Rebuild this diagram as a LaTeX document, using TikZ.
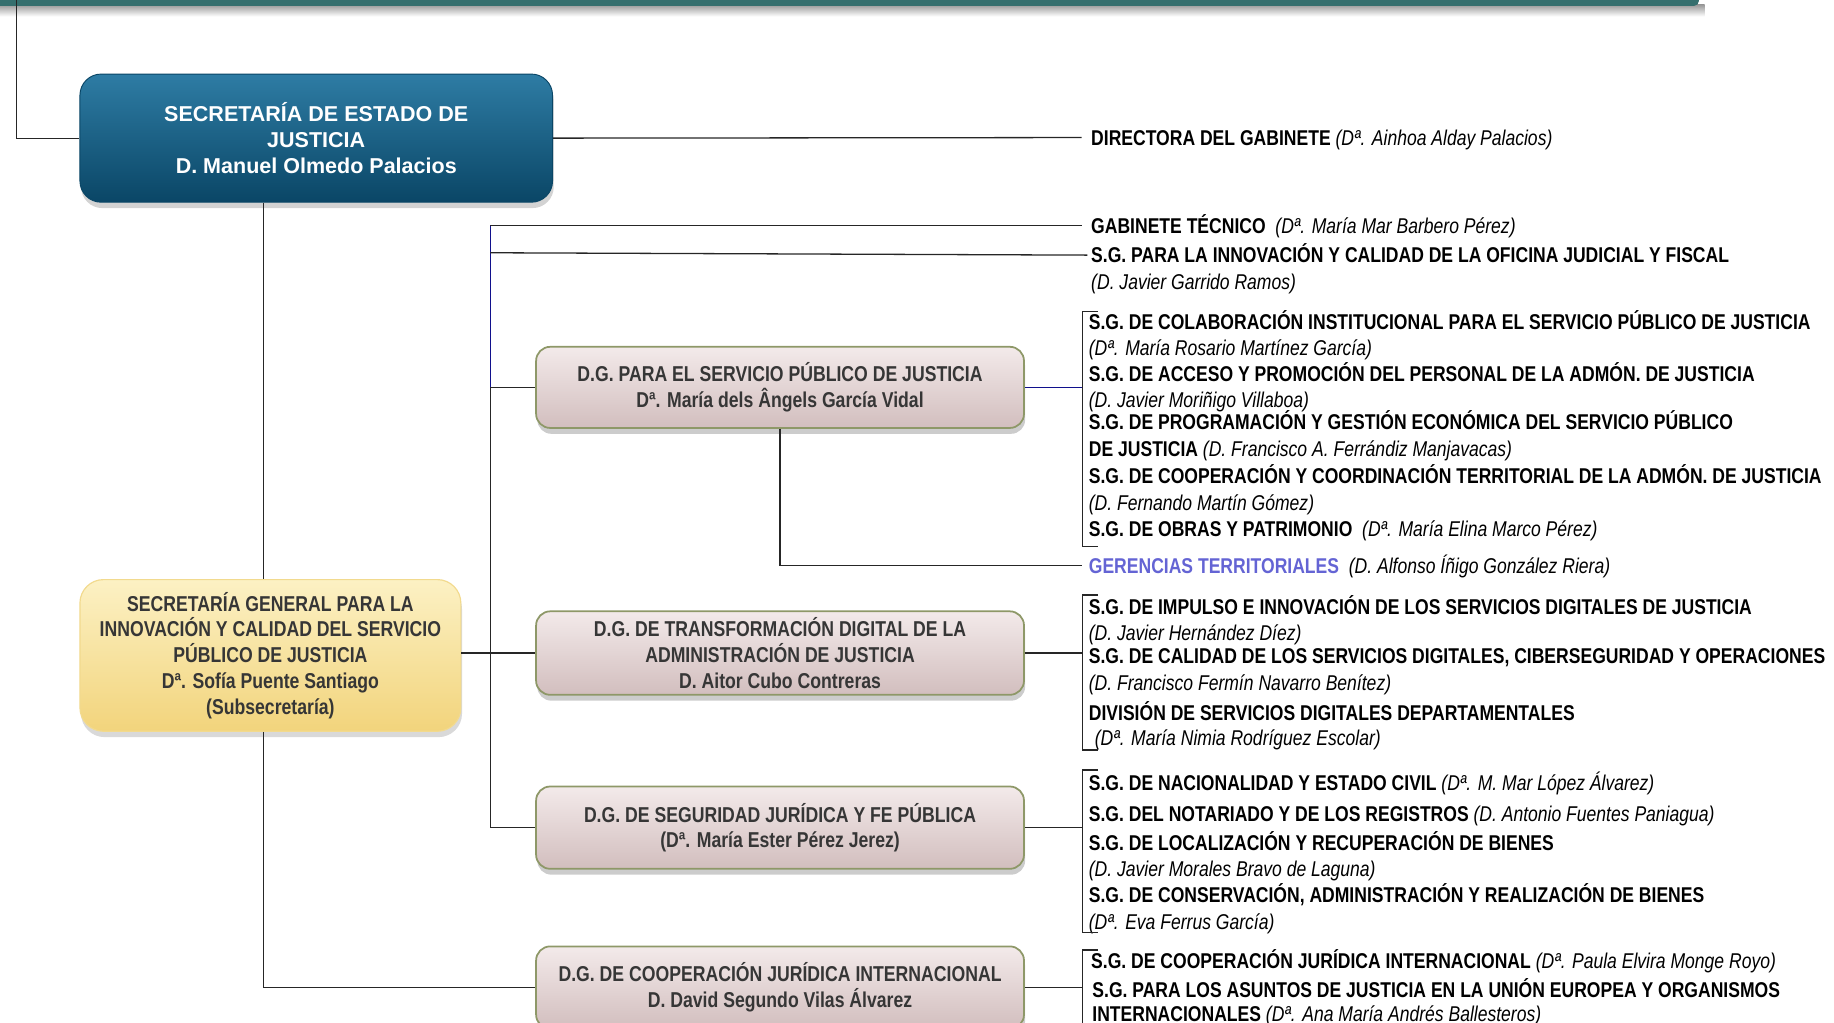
\documentclass[tikz,border=0pt]{standalone}
\usepackage{fontspec}
\setmainfont{Liberation Sans}
\newfontfamily\narrow{Liberation Sans}[FakeStretch=0.82]
\usetikzlibrary{shadows}
\definecolor{barcol}{HTML}{356F6E}
\definecolor{seTop}{HTML}{2E7CA4}
\definecolor{seMid}{HTML}{0B4B6C}
\definecolor{seBot}{HTML}{0A4666}
\definecolor{yTop}{HTML}{FCF1C4}
\definecolor{yMid}{HTML}{F7E196}
\definecolor{yBot}{HTML}{F2D47C}
\definecolor{yBorder}{HTML}{F2DA8E}
\definecolor{dTop}{HTML}{F3EAEA}
\definecolor{dMid}{HTML}{DCCACA}
\definecolor{dBot}{HTML}{D2BEBE}
\definecolor{dBorder}{HTML}{8E9868}
\definecolor{txtgray}{HTML}{363636}
\definecolor{linecol}{HTML}{262626}
\definecolor{bluecol}{HTML}{10108C}
\definecolor{gercol}{HTML}{6464D4}
\newcommand{\nm}[1]{{\mdseries\itshape #1}}
\begin{document}
\begin{tikzpicture}[x=1pt,y=-1pt,
  conn/.style={draw=linecol, line width=1.1pt},
  bconn/.style={draw=bluecol, line width=1.2pt},
  sebox/.style={rounded corners=18pt, minimum width=402pt, minimum height=109pt,
    top color=seTop, middle color=seMid, bottom color=seBot, draw=seBot, line width=0.8pt,
    drop shadow={opacity=0.35, shadow xshift=1pt, shadow yshift=-5pt},
    text=white, align=center, font=\fontsize{18.3}{22}\selectfont\bfseries},
  sgbox/.style={rounded corners=20pt, minimum width=324pt, minimum height=129pt,
    top color=yTop, middle color=yMid, bottom color=yBot, draw=yBorder, line width=1pt,
    drop shadow={opacity=0.3, shadow xshift=1pt, shadow yshift=-5pt},
    text=txtgray, align=center, font=\narrow\fontsize{18.3}{22}\selectfont\bfseries},
  dgbox/.style={rounded corners=12pt, minimum width=415pt, minimum height=69pt,
    top color=dTop, middle color=dMid, bottom color=dBot, draw=dBorder, line width=1.5pt,
    drop shadow={opacity=0.4, shadow xshift=1pt, shadow yshift=-5pt},
    text=txtgray, align=center, font=\narrow\fontsize{18.3}{22}\selectfont\bfseries},
  lbl/.style={anchor=west, inner sep=0pt, text height=13pt, text depth=0pt,
    font=\narrow\fontsize{18.2}{22}\selectfont\bfseries}
]
\useasboundingbox (0,0) rectangle (1560,869.4);

% top bar
\shade[top color=black!40, bottom color=white] (0,4) rectangle (1450,14);
\fill[barcol, rounded corners=4pt] (-10,-10) rectangle (1445,5);

% boxes
\node[sebox] (se) at (269,117.5) {SECRETARÍA DE ESTADO DE\\JUSTICIA\\D. Manuel Olmedo Palacios};
\node[sgbox] (sg) at (230,557.5) {SECRETARÍA GENERAL PARA LA\\INNOVACIÓN Y CALIDAD DEL SERVICIO\\PÚBLICO DE JUSTICIA\\Dª. Sofía Puente Santiago\\(Subsecretaría)};
\node[dgbox] (dg1) at (663.5,329.5) {D.G. PARA EL SERVICIO PÚBLICO DE JUSTICIA\\Dª. María dels Ângels García Vidal};
\node[dgbox, minimum height=71pt] (dg2) at (663.5,555.5) {D.G. DE TRANSFORMACIÓN DIGITAL DE LA\\ADMINISTRACIÓN DE JUSTICIA\\D. Aitor Cubo Contreras};
\node[dgbox, minimum height=70pt] (dg3) at (663.5,704) {D.G. DE SEGURIDAD JURÍDICA Y FE PÚBLICA\\(Dª. María Ester Pérez Jerez)};
\node[dgbox, minimum height=70pt] (dg4) at (663.5,840) {D.G. DE COOPERACIÓN JURÍDICA INTERNACIONAL\\D. David Segundo Vilas Álvarez};

% right-hand texts
\node[lbl] (dir) at (928,117) {DIRECTORA DEL GABINETE \nm{(Dª. Ainhoa Alday Palacios)}};
\node[lbl] (gab) at (928,192) {GABINETE TÉCNICO~ \nm{(Dª. María Mar Barbero Pérez)}};
\node[lbl] (sgi) at (928,217) {S.G. PARA LA INNOVACIÓN Y CALIDAD DE LA OFICINA JUDICIAL Y FISCAL};
\node[lbl] (sgia) at (928,240) {\nm{(D. Javier Garrido Ramos)}};

\node[lbl] (a1) at (926,274) {S.G. DE COLABORACIÓN INSTITUCIONAL PARA EL SERVICIO PÚBLICO DE JUSTICIA};
\node[lbl] (a1n) at (926,296) {\nm{(Dª. María Rosario Martínez García)}};
\node[lbl] (a2) at (926,318) {S.G. DE ACCESO Y PROMOCIÓN DEL PERSONAL DE LA ADMÓN. DE JUSTICIA};
\node[lbl] (a2n) at (926,340) {\nm{(D. Javier Moriñigo Villaboa)}};
\node[lbl] (a3) at (926,359) {S.G. DE PROGRAMACIÓN Y GESTIÓN ECONÓMICA DEL SERVICIO PÚBLICO};
\node[lbl] (a3n) at (926,382) {DE JUSTICIA \nm{(D. Francisco A. Ferrándiz Manjavacas)}};
\node[lbl] (a4) at (926,405) {S.G. DE COOPERACIÓN Y COORDINACIÓN TERRITORIAL DE LA ADMÓN. DE JUSTICIA};
\node[lbl] (a4n) at (926,428) {\nm{(D. Fernando Martín Gómez)}};
\node[lbl] (a5) at (926,450) {S.G. DE OBRAS Y PATRIMONIO~ \nm{(Dª. María Elina Marco Pérez)}};
\node[lbl, text=gercol] (ger) at (926,481) {GERENCIAS TERRITORIALES~ \nm{\color{black}(D. Alfonso Íñigo González Riera)}};

\node[lbl] (b1) at (926,516) {S.G. DE IMPULSO E INNOVACIÓN DE LOS SERVICIOS DIGITALES DE JUSTICIA};
\node[lbl] (b1n) at (926,538) {\nm{(D. Javier Hernández Díez)}};
\node[lbl] (b2) at (926,558) {S.G. DE CALIDAD DE LOS SERVICIOS DIGITALES, CIBERSEGURIDAD Y OPERACIONES};
\node[lbl] (b2n) at (926,581) {\nm{(D. Francisco Fermín Navarro Benítez)}};
\node[lbl] (b3) at (926,606) {DIVISIÓN DE SERVICIOS DIGITALES DEPARTAMENTALES};
\node[lbl] (b3n) at (931,628) {\nm{(Dª. María Nimia Rodríguez Escolar)}};

\node[lbl] (c1) at (926,666) {S.G. DE NACIONALIDAD Y ESTADO CIVIL \nm{(Dª. M. Mar López Álvarez)}};
\node[lbl] (c2) at (926,692) {S.G. DEL NOTARIADO Y DE LOS REGISTROS \nm{(D. Antonio Fuentes Paniagua)}};
\node[lbl] (c3) at (926,717) {S.G. DE LOCALIZACIÓN Y RECUPERACIÓN DE BIENES};
\node[lbl] (c3n) at (926,739) {\nm{(D. Javier Morales Bravo de Laguna)}};
\node[lbl] (c4) at (926,761) {S.G. DE CONSERVACIÓN, ADMINISTRACIÓN Y REALIZACIÓN DE BIENES};
\node[lbl] (c4n) at (926,784) {\nm{(Dª. Eva Ferrus García)}};

\node[lbl] (d1) at (928,817) {S.G. DE COOPERACIÓN JURÍDICA INTERNACIONAL \nm{(Dª. Paula Elvira Monge Royo)}};
\node[lbl] (d2) at (929,842) {S.G. PARA LOS ASUNTOS DE JUSTICIA EN LA UNIÓN EUROPEA Y ORGANISMOS};
\node[lbl] (d2n) at (929,862) {INTERNACIONALES \nm{(Dª. Ana María Andrés Ballesteros)}};

% helper coordinates
\coordinate (vx) at (224,0);
\coordinate (tx) at (417,0);
\coordinate (bx) at (921,0);
\coordinate (t1) at (417,192);
\coordinate (t2) at (417,215);
\coordinate (br1t) at (921,265);
\coordinate (br1b) at (921,465);
\coordinate (br2t) at (921,506);
\coordinate (br2b) at (921,638);
\coordinate (br3t) at (921,655);
\coordinate (br3b) at (921,793);
\coordinate (br4t) at (921,808);
\coordinate (br4b) at (921,880);

% connectors
\draw[conn, line width=0.9pt] (14,-5) |- (se.west);
\draw[conn] (se.east) -- ([xshift=-8pt]dir.west);
\draw[conn] (se.south -| vx) -- (sg.north -| vx);
\draw[conn] (sg.south -| vx) |- (dg4.west);
\draw[bconn] (t1) -- (dg1.west -| tx);
\draw[conn] (dg1.west -| tx) -- (dg3.west -| tx);
\draw[conn] (t1) -- ([xshift=-8pt]gab.west);
\draw[conn] (t2) -- ([xshift=-3pt]sgi.west);
\draw[conn] (dg1.west -| tx) -- (dg1.west);
\draw[conn] (sg.east |- dg2.west) -- (dg2.west);
\draw[conn] (dg3.west -| tx) -- (dg3.west);

\draw[bconn] (dg1.east) -- (dg1.east -| bx);
\draw[conn] ([xshift=13pt]br1t) -- (br1t) -- (br1b) -- ([xshift=13pt]br1b);
\draw[conn] (dg1.south) |- ([xshift=-6pt]ger.west);

\draw[conn] (dg2.east) -- (dg2.east -| bx);
\draw[conn] ([xshift=13pt]br2t) -- (br2t) -- (br2b) -- ([xshift=13pt]br2b);
\draw[conn] (dg3.east) -- (dg3.east -| bx);
\draw[conn] ([xshift=13pt]br3t) -- (br3t) -- (br3b) -- ([xshift=13pt]br3b);
\draw[conn] (dg4.east) -- (dg4.east -| bx);
\draw[conn] ([xshift=13pt]br4t) -- (br4t) -- (br4b);
\end{tikzpicture}
\end{document}
